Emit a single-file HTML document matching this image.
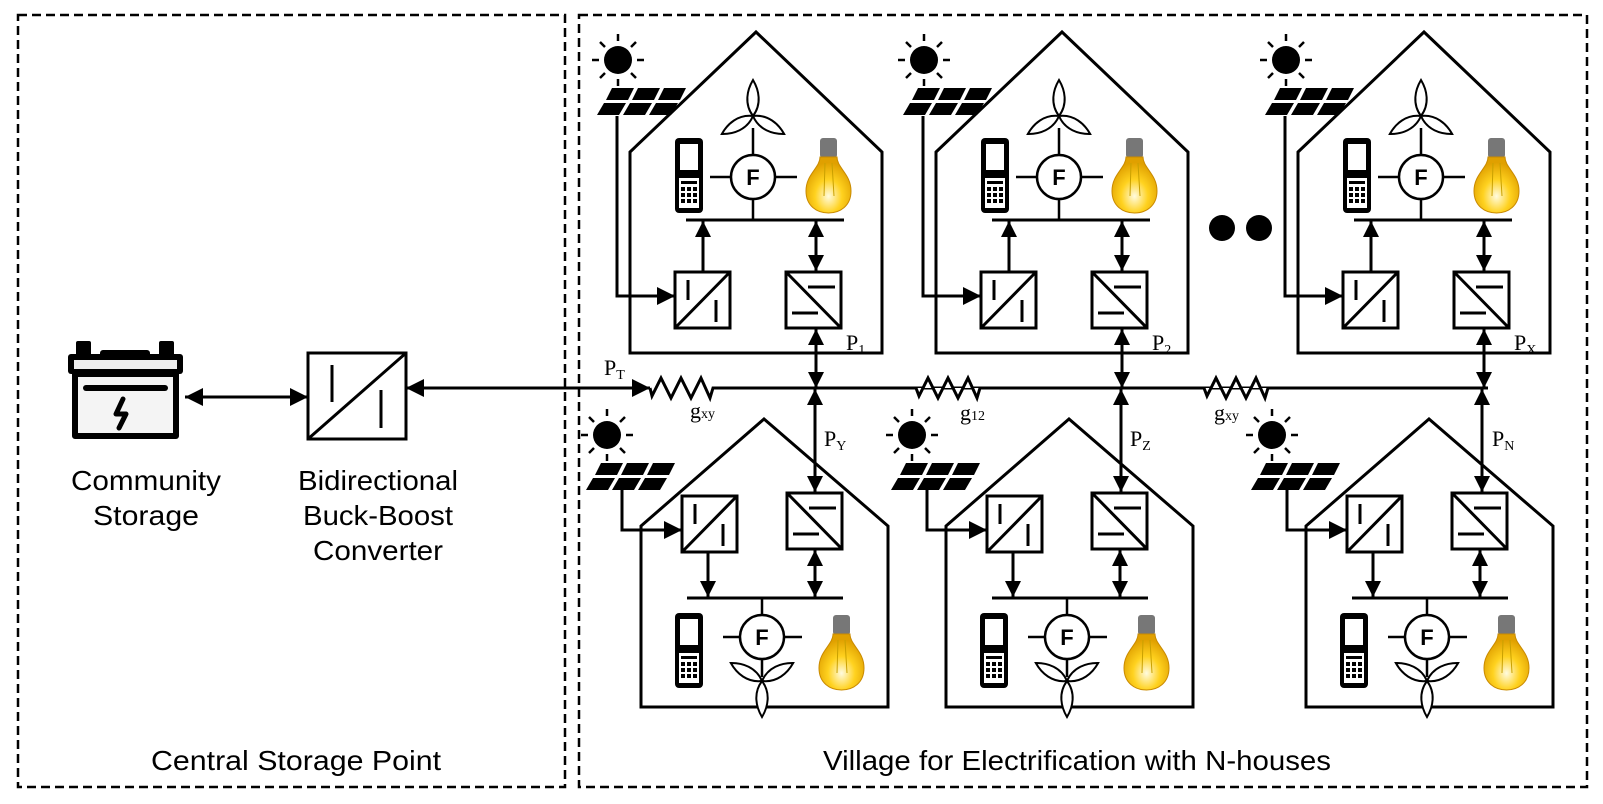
<!DOCTYPE html>
<html><head><meta charset="utf-8"><style>
html,body{margin:0;padding:0;background:#fff;}
svg{display:block;}
text{font-family:"Liberation Sans",sans-serif;}
.serif{font-family:"Liberation Serif",serif;}
</style></head><body>
<svg width="1603" height="804" viewBox="0 0 1603 804" xmlns="http://www.w3.org/2000/svg">
<defs>
<marker id="ah" markerUnits="userSpaceOnUse" markerWidth="20" markerHeight="18" refX="18" refY="9" orient="auto-start-reverse" viewBox="0 0 20 18">
<path d="M0,0 L18,9 L0,18 Z" fill="#000"/></marker>
<marker id="as" markerUnits="userSpaceOnUse" markerWidth="18" markerHeight="16" refX="16" refY="8" orient="auto-start-reverse" viewBox="0 0 18 16">
<path d="M0,0 L16,8 L0,16 Z" fill="#000"/></marker>
<radialGradient id="bulb" cx="0.5" cy="0.7" r="0.6">
<stop offset="0" stop-color="#fffbe0"/><stop offset="0.5" stop-color="#ffd21f"/><stop offset="1" stop-color="#e0a000"/></radialGradient>
<g id="sun"><circle r="14" fill="#000"/>
<g stroke="#000" stroke-width="2.5"><line x1="0" y1="-19" x2="0" y2="-26"/><line x1="0" y1="19" x2="0" y2="26"/><line x1="19" y1="0" x2="26" y2="0"/><line x1="-19" y1="0" x2="-26" y2="0"/><line x1="13" y1="13" x2="18" y2="18"/><line x1="-13" y1="13" x2="-18" y2="18"/><line x1="13" y1="-13" x2="18" y2="-18"/><line x1="-13" y1="-13" x2="-18" y2="-18"/></g></g>
<g id="panel" fill="#000">
<polygon points="14,0 36,0 30,12 8,12"/><polygon points="40,0 62,0 56,12 34,12"/><polygon points="66,0 88,0 82,12 60,12"/>
<polygon points="6,15 28,15 21,27 -1,27"/><polygon points="32,15 54,15 47,27 25,27"/><polygon points="58,15 80,15 73,27 51,27"/></g>
<g id="phone"><rect x="0" y="0" width="28" height="75" rx="4" fill="#000"/><rect x="5" y="6" width="18" height="26" fill="#fff"/>
<rect x="4" y="40" width="20" height="30" fill="#fff"/>
<g fill="#000"><rect x="6" y="43" width="16" height="3"/><rect x="6" y="49" width="4" height="4"/><rect x="12" y="49" width="4" height="4"/><rect x="18" y="49" width="4" height="4"/><rect x="6" y="55" width="4" height="4"/><rect x="12" y="55" width="4" height="4"/><rect x="18" y="55" width="4" height="4"/><rect x="6" y="61" width="4" height="4"/><rect x="12" y="61" width="4" height="4"/><rect x="18" y="61" width="4" height="4"/></g></g>
<g id="bulbg"><rect x="14" y="0" width="17" height="20" rx="3" fill="#777"/><path d="M14,19 C14,30 0,36 0,53 C0,68 11,75 22.5,75 C34,75 45,68 45,53 C45,36 31,30 31,19 Z" fill="url(#bulb)" stroke="#c98a00" stroke-width="1"/>
<path d="M19,25 L18,58 M26,25 L28,58" stroke="#c9a000" stroke-width="1" fill="none"/></g>
<g id="wind" fill="#fff" stroke="#000" stroke-width="2"><path d="M0,0 C-9,-12 -6,-26 0,-36 C6,-26 9,-12 0,0 Z"/><path d="M0,0 C-9,-12 -6,-26 0,-36 C6,-26 9,-12 0,0 Z" transform="rotate(120)"/><path d="M0,0 C-9,-12 -6,-26 0,-36 C6,-26 9,-12 0,0 Z" transform="rotate(240)"/></g>
<g id="fcirc"><circle r="22" fill="#fff" stroke="#000" stroke-width="2.5"/><text x="0" y="8" text-anchor="middle" font-size="22" font-weight="bold">F</text></g>
<g id="pvbox" stroke="#000" stroke-width="3" fill="#fff"><rect x="0" y="0" width="55" height="56"/><line x1="0" y1="56" x2="55" y2="0"/><line x1="13" y1="8" x2="13" y2="28"/><line x1="41" y1="28" x2="41" y2="50"/></g>
<g id="batbox" stroke="#000" stroke-width="3" fill="#fff"><rect x="0" y="0" width="55" height="56"/><line x1="0" y1="0" x2="55" y2="56"/><line x1="22" y1="15" x2="49" y2="15"/><line x1="6" y1="41" x2="32" y2="41"/></g>
<g id="tophouse">
<polygon points="0,120 126,0 252,120 252,321 0,321" fill="none" stroke="#000" stroke-width="3"/>
<use href="#sun" x="-12" y="28"/>
<use href="#panel" x="-32" y="56"/>
<polyline points="-13,84 -13,264 45,264" fill="none" stroke="#000" stroke-width="3" marker-end="url(#ah)"/>
<use href="#pvbox" x="45" y="240"/>
<use href="#batbox" x="156" y="240"/>
<line x1="56" y1="188" x2="214" y2="188" stroke="#000" stroke-width="3"/>
<line x1="73" y1="240" x2="73" y2="189" stroke="#000" stroke-width="3" marker-end="url(#as)"/>
<line x1="186" y1="189" x2="186" y2="239" stroke="#000" stroke-width="3" marker-start="url(#as)" marker-end="url(#as)"/>
<line x1="123" y1="96" x2="123" y2="188" stroke="#000" stroke-width="2.5"/>
<line x1="80" y1="145" x2="167" y2="145" stroke="#000" stroke-width="2.5"/>
<use href="#fcirc" x="123" y="145"/>
<use href="#wind" x="123" y="84"/>
<use href="#phone" x="45" y="106"/>
<use href="#bulbg" x="176" y="106"/>
<line x1="186" y1="297" x2="186" y2="356" stroke="#000" stroke-width="3" marker-start="url(#as)" marker-end="url(#as)"/>
</g>
<g id="bothouse">
<polygon points="0,107 123,0 247,107 247,288 0,288" fill="none" stroke="#000" stroke-width="3"/>
<use href="#sun" x="-34" y="16"/>
<use href="#panel" x="-54" y="44"/>
<polyline points="-19,71 -19,111 41,111" fill="none" stroke="#000" stroke-width="3" marker-end="url(#ah)"/>
<use href="#pvbox" x="41" y="77"/>
<use href="#batbox" x="146" y="74"/>
<line x1="46" y1="179" x2="202" y2="179" stroke="#000" stroke-width="3"/>
<line x1="67" y1="133" x2="67" y2="178" stroke="#000" stroke-width="3" marker-end="url(#as)"/>
<line x1="174" y1="131" x2="174" y2="178" stroke="#000" stroke-width="3" marker-start="url(#as)" marker-end="url(#as)"/>
<line x1="121" y1="179" x2="121" y2="258" stroke="#000" stroke-width="2.5"/>
<line x1="82" y1="218" x2="161" y2="218" stroke="#000" stroke-width="2.5"/>
<use href="#fcirc" x="121" y="218"/>
<use href="#wind" x="121" y="262" transform="rotate(180 121 262)"/>
<use href="#phone" x="34" y="194"/>
<use href="#bulbg" x="178" y="196"/>
</g>
</defs>

<rect x="18" y="15" width="547" height="772" fill="none" stroke="#000" stroke-width="2.5" stroke-dasharray="9,5"/>
<rect x="579" y="15" width="1008" height="772" fill="none" stroke="#000" stroke-width="2.5" stroke-dasharray="9,5"/>

<!-- battery -->
<g fill="#000">
<rect x="76" y="341" width="15" height="16" rx="2"/><rect x="159" y="341" width="15" height="16" rx="2"/>
<rect x="100" y="350" width="50" height="8" rx="3"/>
<rect x="68" y="354" width="115" height="20" rx="3"/>
</g>
<rect x="74" y="360" width="103" height="9" fill="#eee"/>
<rect x="75" y="374" width="101" height="62" fill="#f4f4f4" stroke="#000" stroke-width="6" stroke-linejoin="round"/>
<line x1="86" y1="388" x2="165" y2="388" stroke="#000" stroke-width="6" stroke-linecap="round"/>
<path d="M123,399 L116,414 L126,414 L119,428" fill="none" stroke="#000" stroke-width="5" stroke-linecap="round" stroke-linejoin="round"/>

<line x1="185" y1="397" x2="308" y2="397" stroke="#000" stroke-width="3" marker-start="url(#ah)" marker-end="url(#ah)"/>
<g stroke="#000" stroke-width="3" fill="#fff"><rect x="308" y="353" width="98" height="86"/><line x1="308" y1="439" x2="406" y2="353"/><line x1="332" y1="365" x2="332" y2="402"/><line x1="381" y1="390" x2="381" y2="428"/></g>
<line x1="406" y1="388" x2="650" y2="388" stroke="#000" stroke-width="3" marker-start="url(#ah)" marker-end="url(#ah)"/>

<!-- grid -->
<polyline points="650,388 652,396 661,378 671,398 681,378 691,398 701,378 710,398 713,388 1488,388" fill="none" stroke="#000" stroke-width="3"/>
<polyline points="916,388 919,396 928,378 938,398 948,378 958,398 968,378 977,398 980,388" fill="#fff" stroke="#000" stroke-width="3"/>
<polyline points="1204,388 1207,396 1216,378 1226,398 1236,378 1246,398 1256,378 1265,398 1268,388" fill="#fff" stroke="#000" stroke-width="3"/>

<use href="#tophouse" x="630" y="32"/>
<use href="#tophouse" x="936" y="32"/>
<use href="#tophouse" x="1298" y="32"/>
<use href="#bothouse" x="641" y="419"/>
<use href="#bothouse" x="946" y="419"/>
<use href="#bothouse" x="1306" y="419"/>

<line x1="815" y1="389" x2="815" y2="492" stroke="#000" stroke-width="3" marker-start="url(#as)" marker-end="url(#as)"/>
<line x1="1121" y1="389" x2="1121" y2="492" stroke="#000" stroke-width="3" marker-start="url(#as)" marker-end="url(#as)"/>
<line x1="1482" y1="389" x2="1482" y2="492" stroke="#000" stroke-width="3" marker-start="url(#as)" marker-end="url(#as)"/>

<circle cx="1222" cy="228" r="13" fill="#000"/><circle cx="1259" cy="228" r="13" fill="#000"/>

<g class="serif" font-size="22" fill="#000">
<text x="604" y="375" class="serif">P<tspan font-size="14" dy="4">T</tspan></text>
<text x="690" y="418" class="serif">g<tspan font-size="14">xy</tspan></text>
<text x="960" y="420" class="serif">g<tspan font-size="14">12</tspan></text>
<text x="1214" y="420" class="serif">g<tspan font-size="14">xy</tspan></text>
<text x="846" y="350" class="serif">P<tspan font-size="14" dy="4">1</tspan></text>
<text x="1152" y="350" class="serif">P<tspan font-size="14" dy="4">2</tspan></text>
<text x="1514" y="350" class="serif">P<tspan font-size="14" dy="4">X</tspan></text>
<text x="824" y="446" class="serif">P<tspan font-size="14" dy="4">Y</tspan></text>
<text x="1130" y="446" class="serif">P<tspan font-size="14" dy="4">Z</tspan></text>
<text x="1492" y="446" class="serif">P<tspan font-size="14" dy="4">N</tspan></text>
</g>
<g font-size="28" fill="#000" text-anchor="middle">
<text x="146" y="490" textLength="150" lengthAdjust="spacingAndGlyphs">Community</text>
<text x="146" y="525" textLength="106" lengthAdjust="spacingAndGlyphs">Storage</text>
<text x="378" y="490" textLength="160" lengthAdjust="spacingAndGlyphs">Bidirectional</text>
<text x="378" y="525" textLength="150" lengthAdjust="spacingAndGlyphs">Buck-Boost</text>
<text x="378" y="560" textLength="130" lengthAdjust="spacingAndGlyphs">Converter</text>
<text x="296" y="770" textLength="290" lengthAdjust="spacingAndGlyphs">Central  Storage Point</text>
<text x="1077" y="770" textLength="508" lengthAdjust="spacingAndGlyphs">Village for Electrification with N-houses</text>
</g>
</svg>
</body></html>
